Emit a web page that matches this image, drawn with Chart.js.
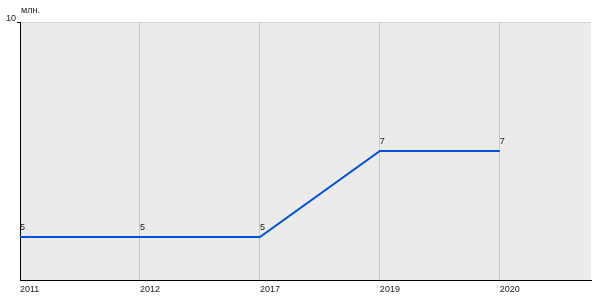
<!DOCTYPE html>
<html>
<head>
<meta charset="utf-8">
<script src="https://cdn.jsdelivr.net/npm/chart.js@4/dist/chart.umd.min.js"></script>
<style>
  html, body { margin: 0; padding: 0; background: #fff; }
  #wrap { width: 600px; height: 300px; }
</style>
</head>
<body>
<div id="wrap"><canvas id="lineChart"></canvas></div>
<script>
// chart data
const years = ['2011', '2012', '2017', '2019', '2020'];
const values = [5, 5, 5, 7, 7];
const yTicks = [10];
const unitLabel = 'млн.';

const FONT = "'Liberation Sans', Arial, sans-serif";

// grey plot background
const plotBackground = {
    id: 'plotBackground',
    beforeDraw(chart) {
        const { ctx, chartArea: a } = chart;
        ctx.save();
        ctx.fillStyle = '#ebebeb';
        ctx.fillRect(a.left, a.top, a.right - a.left, a.bottom - a.top);
        ctx.restore();
    }
};

// value labels above points + unit label
const pointLabels = {
    id: 'pointLabels',
    afterDatasetsDraw(chart) {
        const { ctx, chartArea: a } = chart;
        const meta = chart.getDatasetMeta(0);
        ctx.save();
        ctx.font = '9px ' + FONT;
        ctx.fillStyle = '#222';
        ctx.textAlign = 'left';
        ctx.textBaseline = 'alphabetic';
        meta.data.forEach((pt, i) => {
            ctx.fillText(String(values[i]), pt.x, pt.y - 7);
        });
        ctx.fillText(unitLabel, a.left + 1, 13);
        ctx.restore();
    }
};

const points = years.map((y, i) => ({ x: i, y: values[i] }));

new Chart(document.getElementById('lineChart').getContext('2d'), {
    type: 'line',
    data: {
        datasets: [{
            data: points,
            borderColor: '#0050dc',
            borderWidth: 2,
            pointRadius: 0,
            fill: false,
            tension: 0
        }]
    },
    options: {
        responsive: true,
        maintainAspectRatio: false,
        animation: false,
        layout: { padding: { top: 22, right: 9, left: 0, bottom: 0 } },
        plugins: { legend: { display: false }, tooltip: { enabled: false } },
        scales: {
            x: {
                type: 'linear',
                min: 0,
                max: 4.76,
                afterBuildTicks: s => { s.ticks = years.map((y, i) => ({ value: i })); },
                afterFit: s => { s.height = 20; },
                ticks: {
                    callback: v => years[v],
                    align: 'start',
                    autoSkip: false,
                    maxRotation: 0,
                    padding: 4,
                    color: '#222',
                    font: { family: FONT, size: 9 }
                },
                grid: { color: '#c8c8c8', drawTicks: false },
                border: { color: '#000', width: 1 }
            },
            y: {
                min: 4,
                max: 10,
                afterBuildTicks: s => { s.ticks = yTicks.map(v => ({ value: v })); },
                afterFit: s => { s.width = 20; },
                ticks: {
                    padding: 1,
                    labelOffset: -3,
                    color: '#222',
                    font: { family: FONT, size: 9 }
                },
                grid: { color: '#d4d4d4', tickColor: '#000', tickLength: 3 },
                border: { color: '#000', width: 1 }
            }
        }
    },
    plugins: [plotBackground, pointLabels]
});
</script>
</body>
</html>
